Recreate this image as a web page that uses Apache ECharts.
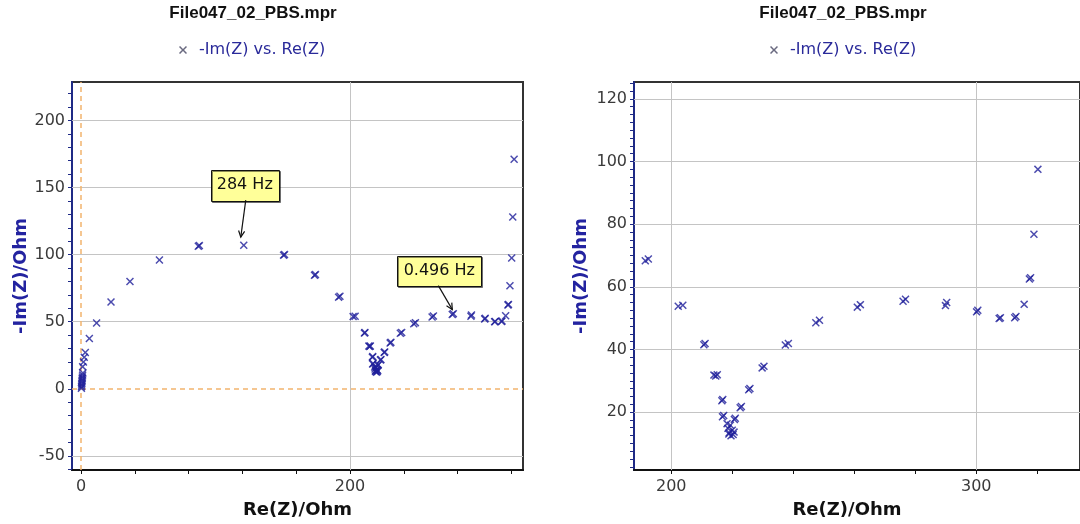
<!DOCTYPE html>
<html>
<head>
<meta charset="utf-8">
<script src="https://cdn.jsdelivr.net/npm/echarts@6/dist/echarts.min.js"></script>
<style>
  html, body { margin: 0; padding: 0; background: #fff; }
  #chart { width: 1080px; height: 524px; }
</style>
</head>
<body>
<div id="chart"></div>
<script>
// Nyquist plot, high frequency (origin) -> low frequency (right)
const reZ = [0.3, 0.4, 0.5, 0.6, 0.7, 0.8, 0.9, 1.0, 1.2, 1.4,
  1.2, 1.8, 2.4, 3.2, 6.2, 11.6, 22.3, 36.4, 58.3, 87.2,
  88.0, 121, 150.6, 151.3, 173.6, 174.3, 191.5, 192.5, 202.3, 203.8,
  210.7, 211.1, 214.0, 214.6, 215.1, 216.6, 216.9, 216.8, 217.2, 218.3,
  218.6, 219.0, 219.6, 220.3, 220.0, 219.4, 218.9, 220.6, 220.7, 221.0,
  222.6, 223.0, 225.4, 225.8, 229.8, 230.4, 237.4, 238.4, 247.4, 248.6,
  261.0, 262.0, 276.0, 276.8, 289.9, 290.3, 300.1, 300.5, 307.5, 307.9,
  312.6, 313.0, 315.7, 317.4, 317.8, 318.9, 320.2, 321.0, 322.0];
const negImZ = [0.4, 1.6, 2.8, 4.0, 5.2, 6.4, 7.6, 8.8, 10.2, 11.8,
  16.5, 20.0, 23.5, 27.0, 37.5, 49.0, 64.7, 80.0, 96.0, 106.2,
  106.7, 107.0, 99.6, 100.0, 84.6, 85.1, 68.3, 68.9, 53.8, 54.1,
  41.5, 41.9, 31.8, 31.5, 31.9, 23.6, 24.0, 18.5, 18.9, 16.3,
  14.8, 13.4, 12.4, 12.8, 14.2, 15.8, 13.0, 13.6, 17.6, 18.0,
  21.4, 21.8, 27.1, 27.5, 34.1, 34.6, 41.4, 41.9, 48.5, 49.3,
  53.5, 54.3, 55.4, 56.0, 54.0, 55.0, 52.0, 52.5, 49.9, 50.1,
  50.1, 50.5, 54.4, 62.5, 62.9, 76.8, 97.5, 128.0, 171.0];

const fileName = 'File047_02_PBS.mpr';
const seriesName = '-Im(Z) vs. Re(Z)';

// frequency call-outs (Re(Z) of the labelled point)
const annLabels = ['284 Hz', '0.496 Hz'];
const annAtRe = [121, 276.8];

// tick labels
const leftXLabels = [0, 200];
const leftYLabels = [-50, 0, 50, 100, 150, 200];
const rightXLabels = [200, 300];
const rightYLabels = [20, 40, 60, 80, 100, 120];

function steps(from, to, step) {
  const out = [];
  for (let v = from; v <= to + 1e-9; v += step) out.push(+v.toFixed(3));
  return out;
}
const leftXTicks = steps(0, 320, 40);
const leftYTicks = steps(-60, 220, 10);
const rightXTicks = steps(200, 320, 20);
const rightYTicks = steps(2.5, 125, 2.5);

const points = reZ.map((x, i) => [x, negImZ[i]]);
const crossPath = 'path://M1.3,0L5,3.7L8.7,0L10,1.3L6.3,5L10,8.7L8.7,10L5,6.3L1.3,10L0,8.7L3.7,5L0,1.3Z';
const navy = '#1f2a86';
const labelFont = { color: '#3a3a3a', fontSize: 16, fontFamily: 'DejaVu Sans' };

function gridLines(xs, ys) {
  return xs.map(v => ({ xAxis: v })).concat(ys.map(v => ({ yAxis: v })));
}

function xAxisOf(gridIndex, min, max, labels, ticks, padRight) {
  return {
    type: 'value', gridIndex, min, max,
    name: 'Re(Z)/Ohm', nameLocation: 'middle', nameGap: 31,
    nameTextStyle: { color: '#111', fontWeight: 'bold', fontSize: 18, fontFamily: 'DejaVu Sans', padding: [0, padRight, 0, 0] },
    axisLine: { onZero: false, lineStyle: { color: '#111', width: 2 } },
    axisTick: { customValues: ticks, length: 4, lineStyle: { color: '#111' } },
    axisLabel: { customValues: labels, margin: 9, ...labelFont },
    splitLine: { show: false }
  };
}
function yAxisOf(gridIndex, min, max, labels, ticks, gap) {
  return {
    type: 'value', gridIndex, min, max,
    name: '-Im(Z)/Ohm', nameLocation: 'middle', nameGap: gap,
    nameTextStyle: { color: '#2323a0', fontWeight: 'bold', fontSize: 18, fontFamily: 'DejaVu Sans' },
    axisLine: { onZero: false, lineStyle: { color: navy, width: 2 } },
    axisTick: { customValues: ticks, length: 4, lineStyle: { color: navy } },
    axisLabel: { customValues: labels, margin: 7, ...labelFont },
    splitLine: { show: false }
  };
}
function scatterOf(idx, marks) {
  return {
    name: seriesName, type: 'scatter', xAxisIndex: idx, yAxisIndex: idx,
    data: points, symbol: crossPath, symbolSize: 8, clip: true, z: 3,
    itemStyle: { color: '#1e1e9a', opacity: 0.8 },
    markLine: {
      silent: true, symbol: 'none', z: 1, animation: false,
      label: { show: false },
      data: marks
    }
  };
}

const chart = echarts.init(document.getElementById('chart'));
const gridStyle = { show: true, borderColor: '#333', borderWidth: 2, backgroundColor: 'transparent' };
const gray = { color: '#c4c4c4', width: 1, type: 'solid', opacity: 1 };
const orange = { color: '#f2b46e', width: 1.5, type: [5, 4], opacity: 1 };

const leftMarks = gridLines([200], leftYLabels.filter(v => v !== 0)).map(d => ({ ...d, lineStyle: gray }))
  .concat([{ xAxis: 0, lineStyle: orange }, { yAxis: 0, lineStyle: orange }]);
const rightMarks = gridLines(rightXLabels, rightYLabels).map(d => ({ ...d, lineStyle: gray }));

const legendOf = left => ({
  left, top: 37, itemWidth: 8, itemHeight: 8, selectedMode: false,
  data: [{ name: seriesName, icon: crossPath, itemStyle: { color: '#6a6a80', opacity: 1 } }],
  textStyle: { color: '#2a2a9a', fontSize: 16, fontFamily: 'DejaVu Sans', padding: [0, 0, 0, 7] }
});

chart.setOption({
  animation: false,
  backgroundColor: '#fff',
  legend: [legendOf(174), legendOf(765)],
  grid: [
    { left: 72, top: 82, width: 451, height: 389, ...gridStyle },
    { left: 634, top: 82, right: -10, height: 389, ...gridStyle }
  ],
  xAxis: [
    xAxisOf(0, -6.7, 328.6, leftXLabels, leftXTicks, 0),
    xAxisOf(1, 187.8, 334, rightXLabels, rightXTicks, 20)
  ],
  yAxis: [
    yAxisOf(0, -60.5, 228.6, leftYLabels, leftYTicks, 42),
    yAxisOf(1, 1.5, 125.4, rightYLabels, rightYTicks, 44)
  ],
  series: [scatterOf(0, leftMarks), scatterOf(1, rightMarks)]
});

// titles and frequency call-outs
const graphic = [];
[253, 843].forEach(cx => graphic.push({
  type: 'text', x: cx, y: 5,
  style: { text: fileName, fill: '#111', font: 'bold 17px "Liberation Sans"', textAlign: 'center', textVerticalAlign: 'top' }
}));

const boxSpec = [
  { dx: 1, dy: -60, w: 68, h: 31, from: [2, -45], tip: [-3, -8] },
  { dx: -14, dy: -43, w: 84, h: 30, from: [-15, -28], tip: [-1, -4] }
];
annLabels.forEach((label, k) => {
  const i = reZ.indexOf(annAtRe[k]);
  const p = chart.convertToPixel({ gridIndex: 0 }, points[i]);
  const s = boxSpec[k];
  const cx = p[0] + s.dx, cy = p[1] + s.dy;
  graphic.push({
    type: 'rect', z: 10,
    shape: { x: Math.round(cx - s.w / 2) + 0.5, y: Math.round(cy - s.h / 2) + 0.5, width: s.w, height: s.h },
    style: { fill: '#ffff99', stroke: '#111', lineWidth: 1, shadowColor: 'rgba(0,0,0,0.45)', shadowOffsetX: 1, shadowOffsetY: 1 }
  });
  graphic.push({
    type: 'text', z: 11, x: cx, y: cy,
    style: { text: label, fill: '#111', font: '16px "DejaVu Sans"', textAlign: 'center', textVerticalAlign: 'middle' }
  });
  const a = [p[0] + s.from[0], p[1] + s.from[1]];
  const b = [p[0] + s.tip[0], p[1] + s.tip[1]];
  const ang = Math.atan2(b[1] - a[1], b[0] - a[0]);
  const head = d => [b[0] - 7 * Math.cos(ang + d), b[1] - 7 * Math.sin(ang + d)];
  graphic.push({ type: 'polyline', z: 11, shape: { points: [a, b] }, style: { stroke: '#111', lineWidth: 1.2 } });
  graphic.push({ type: 'polyline', z: 11, shape: { points: [head(0.45), b, head(-0.45)] }, style: { stroke: '#111', lineWidth: 1.2, fill: 'none' } });
});

chart.setOption({ graphic });
</script>
</body>
</html>
